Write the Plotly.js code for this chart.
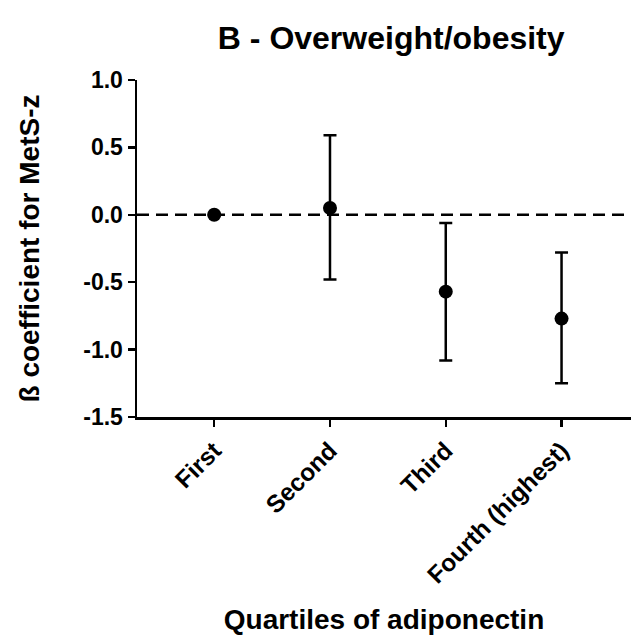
<!DOCTYPE html>
<html><head><meta charset="utf-8">
<script src="https://cdn.plot.ly/plotly-3.0.1.min.js"></script>
<style>html,body{margin:0;padding:0;background:#fff}#chart{width:632px;height:639px}</style>
</head><body><div id="chart"></div>
<script>
const categories = ["First", "Second", "Third", "Fourth (highest)"];
const beta = [0, 0.05, -0.57, -0.77];
const upper = [0, 0.59, -0.06, -0.28];
const lower = [0, -0.48, -1.08, -1.25];

const errPlus = beta.map((b, i) => upper[i] - b);
const errMinus = beta.map((b, i) => b - lower[i]);

const trace = {
  x: [0, 1, 2, 3],
  y: beta,
  mode: 'markers',
  type: 'scatter',
  marker: {color: '#000', size: 14},
  error_y: {type: 'data', symmetric: false, array: errPlus, arrayminus: errMinus,
            color: '#000', thickness: 2.5, width: 6.5, visible: true},
  showlegend: false,
  hoverinfo: 'none'
};

const fam = 'Liberation Sans, Arial, sans-serif';
const layout = {
  width: 632, height: 639,
  margin: {l: 137, r: 1, t: 80, b: 222},
  paper_bgcolor: '#fff', plot_bgcolor: '#fff',
  font: {family: fam, color: '#000'},
  title: {text: '<b>B - Overweight/obesity</b>', font: {size: 32, family: fam, color: '#000'},
          xref: 'container', x: 0.619, xanchor: 'center', yref: 'container', y: 1 - 38/639, yanchor: 'middle'},
  xaxis: {
    range: [-0.667, 3.6],
    tickmode: 'array', tickvals: [0, 1, 2, 3], ticktext: categories.map(c => '<b>' + c + '</b>'),
    tickangle: -45, tickfont: {size: 24.5, family: fam, color: '#000'},
    ticks: 'outside', ticklen: 7, tickwidth: 2.5, tickcolor: '#000',
    showline: true, linewidth: 2.5, linecolor: '#000', showgrid: false, zeroline: false,
    title: {text: '<b>Quartiles of adiponectin</b>', font: {size: 28, family: fam, color: '#000'}, standoff: 22}
  },
  yaxis: {
    range: [-1.5, 1.0],
    tickvals: [-1.5, -1.0, -0.5, 0, 0.5, 1.0],
    ticktext: ['-1.5', '-1.0', '-0.5', '0.0', '0.5', '1.0'].map(t => '<b>' + t + '</b>'),
    tickfont: {size: 23, family: fam, color: '#000'},
    ticks: 'outside', ticklen: 7, tickwidth: 2.5, tickcolor: '#000',
    showline: true, linewidth: 2.5, linecolor: '#000', showgrid: false, zeroline: false,
    title: {text: '<b>ß coefficient for MetS-z</b>', font: {size: 28, family: fam, color: '#000'}, standoff: 36}
  },
  shapes: [{type: 'line', xref: 'paper', x0: 0, x1: 1, yref: 'y', y0: 0, y1: 0,
            line: {color: '#000', width: 2.5, dash: '12px,7px'}, layer: 'below'}]
};

Plotly.newPlot('chart', [trace], layout, {displayModeBar: false, staticPlot: true});
</script></body></html>
